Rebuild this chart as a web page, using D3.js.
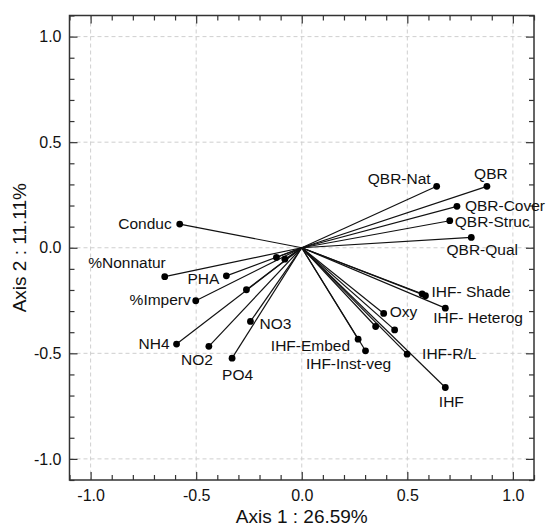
<!DOCTYPE html>
<html>
<head>
<meta charset="utf-8">
<script src="https://cdn.jsdelivr.net/npm/d3@7"></script>
<style>
  body { margin: 0; background: #fff; }
  text { font-family: "Liberation Sans", Arial, sans-serif; fill: #111; }
</style>
</head>
<body>
<svg id="chart" width="546" height="526"></svg>
<script>
// chart values
var varNames = ["Conduc", "%Nonnatur", "PHA", "%Imperv", "NH4", "NO2", "PO4", "NO3", "", "", "",
                "QBR-Nat", "QBR", "QBR-Cover", "QBR-Struc", "QBR-Qual",
                "IHF- Shade", "", "IHF- Heterog", "Oxy", "", "", "IHF-Embed", "IHF-Inst-veg", "IHF-R/L", "IHF"];
var axis1Values = [-0.578, -0.649, -0.357, -0.502, -0.593, -0.440, -0.330, -0.243, -0.262, -0.120, -0.080,
                   0.639, 0.877, 0.735, 0.701, 0.803,
                   0.586, 0.570, 0.680, 0.388, 0.350, 0.440, 0.267, 0.302, 0.499, 0.680];
var axis2Values = [0.112, -0.137, -0.133, -0.251, -0.456, -0.467, -0.523, -0.349, -0.199, -0.046, -0.054,
                   0.291, 0.291, 0.196, 0.128, 0.049,
                   -0.227, -0.218, -0.286, -0.311, -0.373, -0.389, -0.433, -0.488, -0.504, -0.662];
var majorTicks = [-1.0, -0.5, 0.0, 0.5, 1.0];
var xTitle = "Axis 1 : 26.59%";
var yTitle = "Axis 2 : 11.11%";

// where each label sits relative to its dot: [dx, dy, anchor]
var labelPlace = {
  "Conduc": [-8, 5, "end"],
  "%Nonnatur": [1, -9, "end"],
  "PHA": [-7, 8, "end"],
  "%Imperv": [-5, 4, "end"],
  "NH4": [-7, 5, "end"],
  "NO2": [4, 19, "end"],
  "PO4": [-10, 22, "start"],
  "NO3": [9, 8, "start"],
  "QBR-Nat": [-6, -2, "end"],
  "QBR": [4, -7, "middle"],
  "QBR-Cover": [8, 5, "start"],
  "QBR-Struc": [5, 6, "start"],
  "QBR-Qual": [11, 18, "middle"],
  "IHF- Shade": [6, 1, "start"],
  "IHF- Heterog": [-12, 15, "start"],
  "Oxy": [6, 4, "start"],
  "IHF-Embed": [-8, 12, "end"],
  "IHF-Inst-veg": [-17, 18, "middle"],
  "IHF-R/L": [15, 5, "start"],
  "IHF": [6, 19, "middle"]
};

var data = varNames.map(function(n, i) {
  return {name: n, a1: axis1Values[i], a2: axis2Values[i]};
});

var svg = d3.select("#chart");

var plotLeft = 69.5, plotRight = 534, plotTop = 15.5, plotBottom = 480;

var x = d3.scaleLinear().domain([-1.1, 1.1]).range([plotLeft, plotRight]);
var y = d3.scaleLinear().domain([-1.1, 1.1]).range([plotBottom, plotTop]);

var minorTicks = d3.range(-11, 12).map(function(i) { return i / 10; })
                   .filter(function(v) { return majorTicks.indexOf(v) < 0; });

// grid
var grid = svg.append("g").attr("stroke", "#cfcfcf").attr("stroke-dasharray", "4,3").attr("stroke-width", 1);
grid.selectAll(".gx").data(majorTicks).enter().append("line")
    .attr("x1", function(d) { return x(d); }).attr("x2", function(d) { return x(d); })
    .attr("y1", plotTop).attr("y2", plotBottom);
grid.selectAll(".gy").data(majorTicks).enter().append("line")
    .attr("y1", function(d) { return y(d); }).attr("y2", function(d) { return y(d); })
    .attr("x1", plotLeft).attr("x2", plotRight);

// axes (ticks point inward)
function addAxis(axisFn, scale, vals, size, withLabels, transform) {
  var g = svg.append("g").attr("transform", transform)
             .call(axisFn(scale).tickValues(vals).tickSize(size).tickPadding(withLabels ? 10 : 0)
                   .tickFormat(withLabels ? d3.format(".1f") : ""));
  g.select(".domain").remove();
  g.selectAll(".tick line").attr("stroke", "#333").attr("stroke-width", 1.2);
  g.selectAll(".tick text").style("font-size", "16px").attr("fill", "#111")
   .text(function(d) { return withLabels ? d3.format(".1f")(d).replace("\u2212", "-") : ""; });
  return g;
}

addAxis(d3.axisBottom, x, majorTicks, -8, true, "translate(0," + plotBottom + ")");
addAxis(d3.axisBottom, x, minorTicks, -5, false, "translate(0," + plotBottom + ")");
addAxis(d3.axisTop, x, majorTicks, -8, false, "translate(0," + plotTop + ")");
addAxis(d3.axisTop, x, minorTicks, -5, false, "translate(0," + plotTop + ")");
var yAx = addAxis(d3.axisLeft, y, majorTicks, -8, true, "translate(" + plotLeft + ",0)");
yAx.selectAll(".tick text").attr("x", -8);
addAxis(d3.axisLeft, y, minorTicks, -5, false, "translate(" + plotLeft + ",0)");
addAxis(d3.axisRight, y, majorTicks, -8, false, "translate(" + plotRight + ",0)");
addAxis(d3.axisRight, y, minorTicks, -5, false, "translate(" + plotRight + ",0)");

// frame
svg.append("rect").attr("x", plotLeft).attr("y", plotTop)
   .attr("width", plotRight - plotLeft).attr("height", plotBottom - plotTop)
   .attr("fill", "none").attr("stroke", "#333").attr("stroke-width", 1.5);

// vectors
svg.append("g").selectAll("line").data(data).enter().append("line")
   .attr("x1", x(0)).attr("y1", y(0))
   .attr("x2", function(d) { return x(d.a1); })
   .attr("y2", function(d) { return y(d.a2); })
   .attr("stroke", "#111").attr("stroke-width", 1.2);

svg.append("g").selectAll("circle").data(data).enter().append("circle")
   .attr("cx", function(d) { return x(d.a1); })
   .attr("cy", function(d) { return y(d.a2); })
   .attr("r", 3.4).attr("fill", "#000");

svg.append("g").selectAll("text").data(data.filter(function(d) { return d.name; })).enter().append("text")
   .attr("x", function(d) { return x(d.a1) + labelPlace[d.name][0]; })
   .attr("y", function(d) { return y(d.a2) + labelPlace[d.name][1]; })
   .attr("text-anchor", function(d) { return labelPlace[d.name][2]; })
   .style("font-size", "15.5px")
   .text(function(d) { return d.name; });

// axis titles
svg.append("text").attr("x", (plotLeft + plotRight) / 2).attr("y", 523)
   .attr("text-anchor", "middle").style("font-size", "19px").text(xTitle);
svg.append("text").attr("transform", "translate(26," + ((plotTop + plotBottom) / 2) + ") rotate(-90)")
   .attr("text-anchor", "middle").style("font-size", "19px").text(yTitle);
</script>
</body>
</html>
